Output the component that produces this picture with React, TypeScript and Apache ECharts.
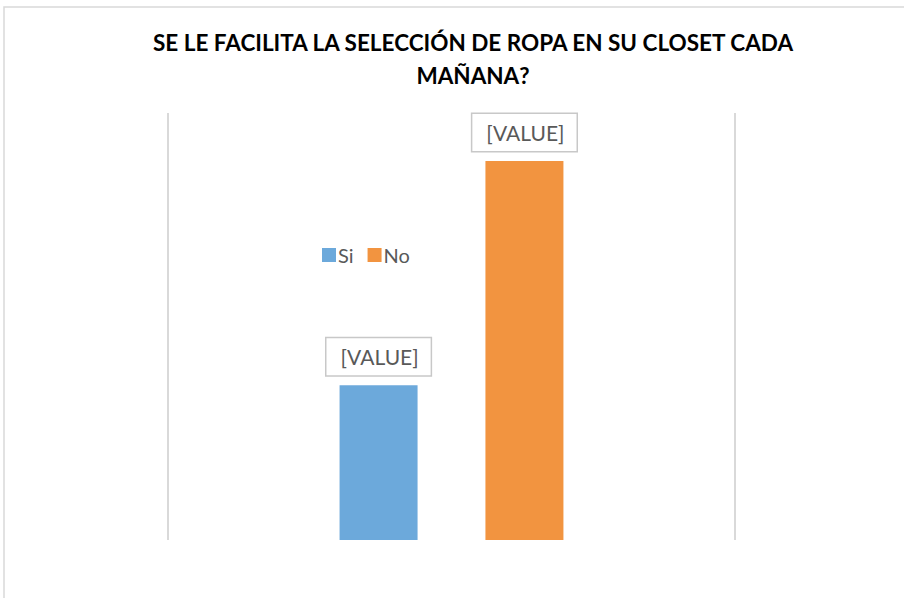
import React, { useEffect, useRef } from "react";
import * as echarts from "echarts";

const categories = [""];
const seriesNames = ["Si", "No"];
const siValues = [29];
const noValues = [71];
const colors = ["#6CA9DB", "#F29440"];
const titleText = "SE LE FACILITA LA SELECCIÓN DE ROPA EN SU CLOSET CADA\nMAÑANA?";

export default function App() {
  const ref = useRef<HTMLDivElement>(null);
  useEffect(() => {
    if (!ref.current) return;
    const chart = echarts.init(ref.current, null, { renderer: "svg" });
    const label = {
      show: true,
      position: "top",
      distance: 10,
      formatter: "[VALUE]",
      color: "#595959",
      fontFamily: "Lato",
      fontSize: 21,
      lineHeight: 21,
      borderColor: "#c8c8c8",
      borderWidth: 1.5,
      padding: [8, 12, 8, 14],
      backgroundColor: "#fff",
    };
    chart.setOption({
      animation: false,
      backgroundColor: "#fff",
      graphic: [
        {
          type: "rect",
          shape: { x: 4, y: 7, width: 920, height: 620 },
          style: { fill: "none", stroke: "#d9d9d9", lineWidth: 1.5 },
          silent: true,
        },
        {
          type: "text",
          x: 473,
          y: 26,
          style: {
            text: titleText,
            textAlign: "center",
            font: "bold 22.5px Lato",
            fill: "#000",
            lineHeight: 33,
          },
        },
      ],
      legend: {
        data: seriesNames,
        left: 322,
        top: 245,
        padding: 0,
        itemWidth: 14,
        itemHeight: 14,
        itemGap: 14,
        icon: "rect",
        textStyle: { color: "#595959", fontFamily: "Lato", fontSize: 20, padding: [0, 0, 0, -3] },
      },
      grid: { left: 168, right: 904 - 735, top: 113, bottom: 58 },
      xAxis: {
        type: "category",
        data: categories,
        axisLine: { show: false },
        axisTick: { show: false },
        axisLabel: { show: false },
        splitLine: { show: true, lineStyle: { color: "#d9d9d9", width: 2 } },
      },
      yAxis: {
        type: "value",
        min: 0,
        max: 80,
        show: false,
        splitLine: { show: false },
      },
      series: [
        {
          name: seriesNames[0],
          type: "bar",
          data: siValues,
          barWidth: 78,
          barGap: "87%",
          itemStyle: { color: colors[0] },
          label,
        },
        {
          name: seriesNames[1],
          type: "bar",
          data: noValues,
          barWidth: 78,
          barGap: "87%",
          itemStyle: { color: colors[1] },
          label,
        },
      ],
    });
    return () => chart.dispose();
  }, []);
  return <div ref={ref} style={{ width: 904, height: 598, position: "absolute", left: 0, top: 0 }} />;
}
